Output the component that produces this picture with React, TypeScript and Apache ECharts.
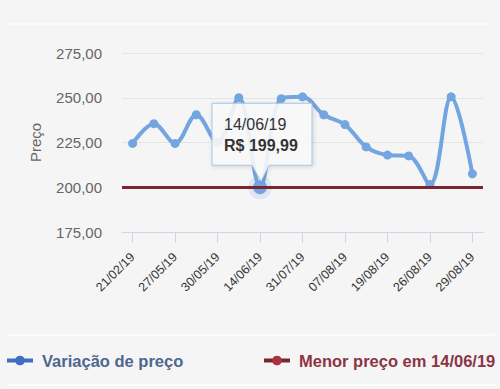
import React, { useEffect, useRef } from "react";
import * as echarts from "echarts";

const categories = [
  "21/02/19", "15/04/19", "27/05/19", "28/05/19", "30/05/19", "06/06/19",
  "14/06/19", "05/07/19", "31/07/19", "02/08/19", "07/08/19", "13/08/19",
  "19/08/19", "22/08/19", "26/08/19", "27/08/19", "29/08/19",
];
const prices = [
  224.5, 235.5, 224.5, 240.5, 225, 250, 199.99, 249.5, 250.5, 240.5, 235,
  222.5, 218, 217.5, 201.5, 250.5, 207.5,
];
const yMin = 175;
const yMax = 275;
const yStep = 25;
const seriesName = "Variação de preço";
const minIndex = prices.indexOf(Math.min(...prices));
const minValue = prices[minIndex];
const minDate = categories[minIndex];
const minName = "Menor preço em " + minDate;

const fmt = (v: number) => v.toFixed(2).replace(".", ",");
const FONT = "'Liberation Sans', Arial, sans-serif";

export default function App() {
  const ref = useRef<HTMLDivElement>(null);
  useEffect(() => {
    if (!ref.current) return;
    const chart = echarts.init(ref.current, null, { renderer: "svg" });
    chart.setOption({
      animation: false,
      backgroundColor: "#f5f5f5",
      textStyle: { fontFamily: FONT },
      grid: { left: 122, right: 17, top: 53, bottom: 157 },
      xAxis: {
        type: "category",
        data: categories,
        boundaryGap: true,
        axisLine: { lineStyle: { color: "#ccd6eb", width: 1 } },
        axisTick: {
          show: true,
          alignWithLabel: true,
          interval: 1,
          length: 11,
          lineStyle: { color: "#ccd6eb" },
        },
        axisLabel: {
          interval: 1,
          rotate: 45,
          margin: 23,
          fontSize: 12.5,
          color: "#333",
          fontFamily: FONT,
        },
      },
      yAxis: {
        type: "value",
        min: yMin,
        max: yMax,
        interval: yStep,
        name: "Preço",
        nameLocation: "middle",
        nameRotate: 90,
        nameGap: 79,
        nameTextStyle: { fontSize: 15, color: "#666", fontFamily: FONT },
        axisLine: { show: false },
        axisTick: { show: false },
        axisLabel: {
          formatter: (v: number) => fmt(v),
          fontSize: 15,
          color: "#666",
          margin: 20,
          fontFamily: FONT,
        },
        splitLine: { lineStyle: { color: "#e4e4e4", width: 1 } },
      },
      legend: [
        {
          left: 5,
          top: 352,
          padding: 0,
          itemWidth: 26,
          itemHeight: 12,
          data: [
            {
              name: seriesName,
              itemStyle: { color: "#3e6fc2" },
              lineStyle: { color: "#3e6fc2", width: 4 },
              textStyle: { color: "#4d6791" },
            },
          ],
          textStyle: { fontSize: 16.5, fontWeight: "bold", fontFamily: FONT, padding: [0, 0, 0, 4] },
        },
        {
          left: 262,
          top: 352,
          padding: 0,
          itemWidth: 26,
          itemHeight: 12,
          data: [
            {
              name: minName,
              itemStyle: { color: "#a8323e" },
              lineStyle: { color: "#7c2532", width: 4 },
              textStyle: { color: "#8c3444" },
            },
          ],
          textStyle: { fontSize: 16.5, fontWeight: "bold", fontFamily: FONT, padding: [0, 0, 0, 4] },
        },
      ],
      series: [
        {
          name: minName,
          type: "line",
          data: [],
          symbol: "circle",
          z: 1,
          itemStyle: { color: "#a8323e" },
          lineStyle: { color: "#7c2532", width: 3 },
          markLine: {
            silent: true,
            symbol: ["none", "none"],
            label: { show: false },
            lineStyle: { color: "#7c2532", width: 3, type: "solid" },
            data: [{ yAxis: minValue }],
          },
        },
        {
          type: "scatter",
          data: [[minIndex, minValue]],
          symbolSize: 24,
          z: 2,
          silent: true,
          itemStyle: { color: "rgba(115,165,224,0.22)" },
        },
        {
          name: seriesName,
          type: "line",
          data: prices.map((v, i) =>
            i === minIndex ? { value: v, symbolSize: 14 } : v
          ),
          smooth: 0.35,
          symbol: "circle",
          symbolSize: 9,
          showAllSymbol: true,
          z: 3,
          itemStyle: { color: "#73a5e0" },
          lineStyle: { color: "#73a5e0", width: 4 },
        },
      ],
    });

    const [px, py] = chart.convertToPixel(
      { xAxisIndex: 0, yAxisIndex: 0 },
      [minIndex, minValue]
    ) as number[];
    const L = px - 48, R = px + 52, T = py - 84, B = py - 22;
    chart.setOption({
      graphic: [
        { type: "line", shape: { x1: 10, y1: 24, x2: 492, y2: 24 }, style: { stroke: "#fdfdfd", lineWidth: 1.5 } },
        { type: "line", shape: { x1: 8, y1: 335, x2: 495, y2: 335 }, style: { stroke: "#fdfdfd", lineWidth: 1.5 } },
        { type: "line", shape: { x1: 8, y1: 385, x2: 495, y2: 385 }, style: { stroke: "#fdfdfd", lineWidth: 1.5 } },
        {
          type: "polygon",
          z: 100,
          shape: {
            points: [
              [L, T], [R, T], [R, B], [px + 9, B], [px + 1, py - 6], [px - 8, B], [L, B],
            ],
          },
          style: {
            fill: "rgba(250,250,250,0.88)",
            stroke: "#a6c4ea",
            lineWidth: 1,
            shadowBlur: 4,
            shadowOffsetX: 1,
            shadowOffsetY: 1,
            shadowColor: "rgba(0,0,0,0.15)",
          },
        },
        {
          type: "text",
          z: 101,
          x: L + 12,
          y: T + 21,
          style: { text: minDate, fontSize: 16, fill: "#333", fontFamily: FONT, verticalAlign: "middle" },
        },
        {
          type: "text",
          z: 101,
          x: L + 12,
          y: T + 42,
          style: { text: "R$ " + fmt(minValue), fontSize: 16, fontWeight: "bold", fill: "#333", fontFamily: FONT, verticalAlign: "middle" },
        },
      ],
    });
    return () => chart.dispose();
  }, []);
  return (
    <div
      ref={ref}
      style={{ position: "fixed", left: 0, top: 0, width: 500, height: 389 }}
    />
  );
}
